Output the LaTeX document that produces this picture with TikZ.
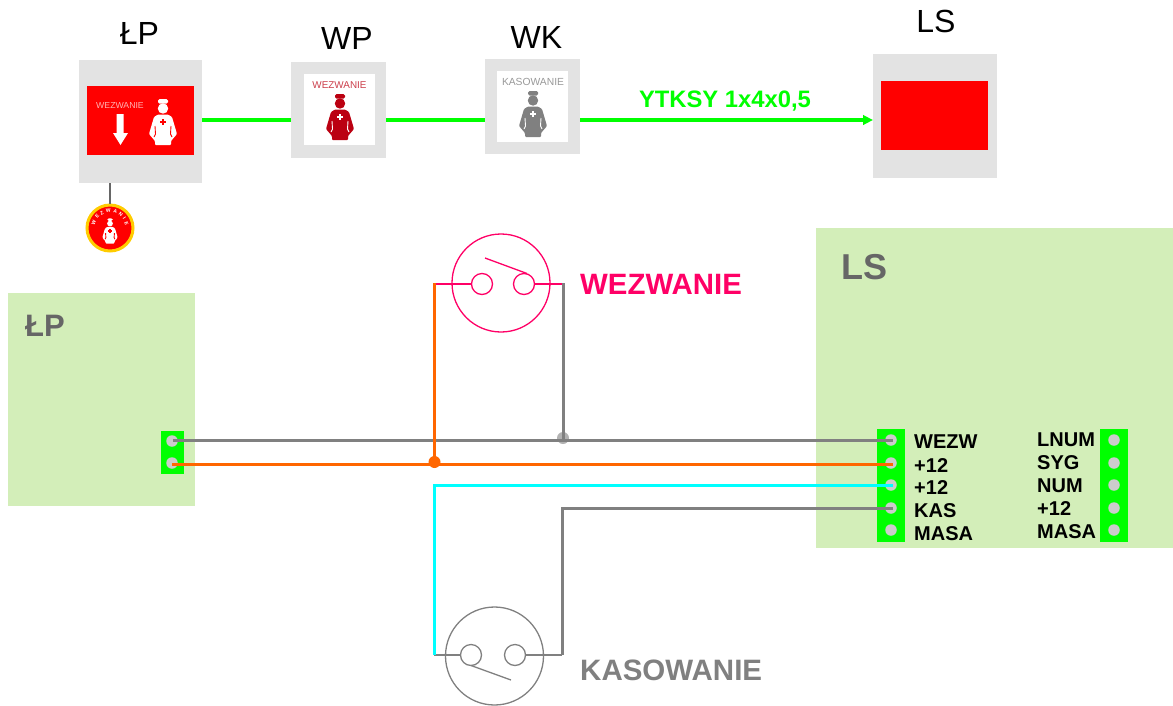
\documentclass[tikz,border=0pt]{standalone}
\usepackage{fontspec}
\setmainfont{Liberation Sans}
\usetikzlibrary{arrows.meta,decorations.text}

\definecolor{panelgray}{HTML}{E3E3E3}
\definecolor{panelgreen}{HTML}{D3EEB9}
\definecolor{wiregray}{HTML}{808080}
\definecolor{wireorange}{HTML}{FF6600}
\definecolor{wirecyan}{HTML}{00FFFF}
\definecolor{callpink}{HTML}{FF0066}
\definecolor{darkred}{HTML}{BB0011}
\definecolor{titlegray}{HTML}{666666}

\newcommand\fsize[1]{\fontsize{#1}{#1}\selectfont}

%% nurse icon: x, y, scale, body colour, colour behind it
\newcommand\nurse[5]{
  \begin{scope}[shift={(#1,#2)},scale=#3]
    \fill[#4,rounded corners=1.5pt] (-5,-23) rectangle (5,-18.5);
    \fill[#4] (0,-13.5) circle (5.2pt);
    \fill[#4,rounded corners=1pt] (-5,-7.5) -- (5,-7.5) -- (9,-5) -- (14,12) -- (8,19)
      -- (8,23) -- (-8,23) -- (-8,19) -- (-14,12) -- (-9,-5) -- cycle;
    \draw[#5,line width=.9pt] (-8,4) -- (-7.5,12) -- (-9,15);
    \draw[#5,line width=.9pt] (8,4) -- (7.5,12) -- (9,15);
    \fill[#5] (-3,-1) rectangle (3,1);
    \fill[#5] (-1,-3) rectangle (1,3);
  \end{scope}
}

\tikzset{
  box/.style={fill=#1,inner sep=0pt,outer sep=0pt},
  title/.style={font=\fsize{32}},
  heading/.style={font=\fsize{#1}\bfseries,text=titlegray},
  pin/.style={circle,fill=black!20,inner sep=0pt,minimum size=11.5pt},
  pinlabel/.style={font=\fsize{20}\bfseries,anchor=west,inner sep=0pt},
  wire/.style={line width=3pt,draw=#1},
  contact/.style={circle,draw=#1,line width=1.3pt,inner sep=0pt,minimum size=21pt},
  dial/.style={circle,draw=#1,line width=1.3pt,inner sep=0pt,minimum size=98pt},
  lead/.style={line width=#1},
  bus/.style={line width=4.5pt,draw=green},
}

\begin{document}
\begin{tikzpicture}[x=1pt,y=-1pt]
  \useasboundingbox (0,0) rectangle (1173,705);

  %% top row
  \node[box=panelgray,minimum width=123pt,minimum height=123pt] (lpBox) at (140.5,121.5) {};
  \node[box=panelgray,minimum width=95pt,minimum height=96pt] (wpBox) at (338.5,110) {};
  \node[box=panelgray,minimum width=95pt,minimum height=95pt] (wkBox) at (532.5,106.5) {};
  \node[box=panelgray,minimum width=124pt,minimum height=124pt] (lsBox) at (935,116) {};

  \node[box=red,minimum width=107pt,minimum height=69pt] (lpFace) at (140.5,120.5) {};
  \node[box=white,minimum width=71pt,minimum height=71pt] (wpFace) at (339.5,109.5) {};
  \node[box=white,minimum width=71pt,minimum height=71pt] (wkFace) at (532.5,106.5) {};
  \node[box=red,minimum width=107pt,minimum height=69pt] (lsFace) at (934.5,115.5) {};

  \node[title] (lpTitle) at (139.5,33) {ŁP};
  \node[title] (wpTitle) at (347,38) {WP};
  \node[title] (wkTitle) at (536.5,37) {WK};
  \node[title] (lsTitle) at (936,21) {LS};

  %% icons
  \node[font=\fsize{8.7},text=red!30!white,inner sep=0pt] (lpCall) at (120,106) {WEZWANIE};
  \fill[white] (116.5,114) -- (123.5,114) -- (123.5,133) -- (128,133) -- (120.5,145) -- (113,133) -- (116.5,133) -- cycle;
  \nurse{163}{122}{1}{white}{red}
  \node[font=\fsize{9.9},text=darkred!75!white,inner sep=0pt] (wpCall) at (339.5,85) {WEZWANIE};
  \nurse{340}{117}{1}{darkred}{white}
  \node[font=\fsize{10.3},text=black!40,inner sep=0pt] (wkCall) at (533,82) {KASOWANIE};
  \nurse{533}{114}{1}{wiregray}{white}

  %% bus
  \coordinate (busY) at (0,120);
  \draw[bus] (lpBox.east |- busY) -- (wpBox.west |- busY);
  \draw[bus] (wpBox.east |- busY) -- (wkBox.west |- busY);
  \draw[bus,-{Triangle[length=10pt,width=9.5pt]}] (wkBox.east |- busY) -- (lsBox.west |- busY);
  \node[font=\fsize{23.8}\bfseries,text=green,inner sep=0pt] (busLabel) at (725,101) {YTKSY 1x4x0,5};

  %% badge
  \node[circle,fill=red,draw={rgb,255:red,255;green,204;blue,0},line width=3pt,
    inner sep=0pt,minimum size=46pt] (badge) at (110,228) {};
  \draw[line width=1.5pt,draw=titlegray] (badge.north |- lpBox.south) -- (badge.north);
  \nurse{110}{231}{.55}{white}{red}
  \path[decorate,decoration={text along path,text align=fit to path,
    text={|\color{white}\fsize{5}\bfseries|WEZWANIE}}]
    (110,228) ++(190:15.5) arc[start angle=190,end angle=350,radius=15.5];

  %% panels
  \node[box=panelgreen,minimum width=187pt,minimum height=213pt] (lpPanel) at (101.5,399.5) {};
  \node[box=panelgreen,minimum width=357pt,minimum height=320pt] (lsPanel) at (994.5,388) {};
  \node[heading=31] (lpHead) at (45,326) {ŁP};
  \node[heading=36] (lsHead) at (864,267) {LS};

  %% terminals
  \node[box=green,minimum width=23pt,minimum height=43pt] (lpStrip) at (172.5,452.5) {};
  \node[box=green,minimum width=28pt,minimum height=113pt] (lsStripA) at (891,485.5) {};
  \node[box=green,minimum width=28pt,minimum height=113pt] (lsStripB) at (1114,485.5) {};

  \foreach \name/\Y in {a/441,b/463}
    \node[pin] (lp\name) at (172,\Y) {};
  \foreach \name/\Y in {a/440,b/463,c/485,d/508,e/530}{
    \node[pin] (ls\name) at (891,\Y) {};
    \node[pin] (nm\name) at (1114,\Y) {};
  }

  \foreach \name/\Y/\txt in {a/442/WEZW,b/466/+12,c/488/+12,d/511/KAS,e/534/MASA}
    \node[pinlabel] (lsText\name) at (914,\Y) {\txt};
  \foreach \name/\Y/\txt in {a/440/LNUM,b/463/SYG,c/486/NUM,d/509/+12,e/532/MASA}
    \node[pinlabel] (nmText\name) at (1037,\Y) {\txt};

  %% switch, call
  \node[dial=callpink] (callDial) at (501,283) {};
  \node[contact=callpink] (callA) at (482,284) {};
  \node[contact=callpink] (callB) at (524,284) {};
  \coordinate (callFree) at (485,258);
  \coordinate (callL) at (434.5,284);
  \coordinate (callR) at (563,284);
  \draw[callpink,lead=1.3pt] (callFree) -- (527,273.5);
  \draw[callpink,lead=1.5pt] (callL) -- (callA.west);
  \draw[callpink,lead=1.5pt] (callB.east) -- (callR);
  \node[font=\fsize{29.4}\bfseries,text=callpink,anchor=west,inner sep=0pt] (callText) at (580,284) {WEZWANIE};

  %% switch, reset
  \node[dial=wiregray] (resetDial) at (494.5,656) {};
  \node[contact=wiregray] (resetA) at (471,655) {};
  \node[contact=wiregray] (resetB) at (515,655) {};
  \coordinate (resetFree) at (511,680);
  \coordinate (resetL) at (434,655);
  \coordinate (resetR) at (562,655);
  \draw[wiregray,lead=1.3pt] (resetFree) -- (471,665.5);
  \draw[wiregray,lead=1.5pt] (resetL) -- (resetA.west);
  \draw[wiregray,lead=1.5pt] (resetB.east) -- (resetR);
  \node[font=\fsize{29.5}\bfseries,text=wiregray,anchor=west,inner sep=0pt] (resetText) at (580,670) {KASOWANIE};

  %% wires
  \coordinate (endLa) at (173,440);
  \coordinate (endLb) at (172,464);
  \coordinate (endRa) at (893,440);
  \coordinate (endRb) at (893,464);
  \coordinate (endRc) at (893,485.5);
  \coordinate (endRd) at (893,508);
  \node[circle,fill=black!30,inner sep=0pt,minimum size=12pt] (grayDot) at (563,438) {};
  \node[circle,fill=wireorange,inner sep=0pt,minimum size=12pt] (orangeDot) at (434.5,462) {};

  \draw[wire=wiregray] (endLa) -- (endRa);
  \draw[wire=wireorange] (endLb) -- (endRb);
  \draw[wire=wireorange,line cap=rect] (callL) -- (orangeDot.center);
  \draw[wire=wiregray,line cap=rect] (callR) -- (grayDot.center);
  \draw[wire=wirecyan] (endRc) -| (resetL);
  \draw[wire=wiregray] (endRd) -| (resetR);
\end{tikzpicture}
\end{document}
